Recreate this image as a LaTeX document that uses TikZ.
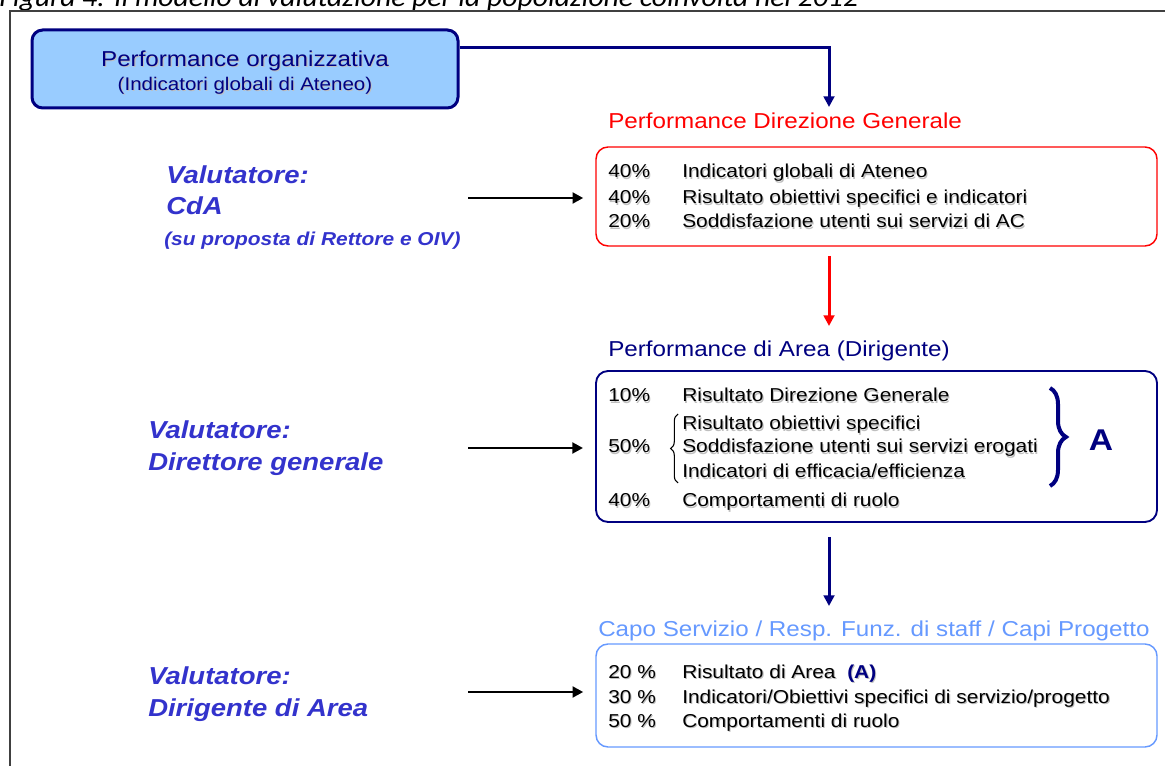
\documentclass[tikz,border=0pt]{standalone}
\usepackage{fontspec}
\setmainfont{Liberation Sans}[FakeStretch=1.12]
\newfontfamily\capfont{Carlito}[FakeStretch=1.1]
\usetikzlibrary{arrows.meta,decorations.pathreplacing}
\definecolor{navy}{HTML}{000080}
\definecolor{lblue}{HTML}{99CCFF}
\definecolor{vblue}{HTML}{3333CC}
\definecolor{sblue}{HTML}{6699FF}
\definecolor{framegray}{HTML}{404040}
\newcommand\shd[1]{\makebox[0pt][l]{\kern0.8pt\raisebox{-0.8pt}{\textcolor{black!25}{#1}}}#1}
\begin{document}
\begin{tikzpicture}[x=0.75pt,y=-0.75pt,
  pct/.style={anchor=base west, inner sep=0pt, font=\fontsize{14}{16}\selectfont},
  ttl/.style={anchor=base west, inner sep=0pt, font=\fontsize{16.2}{20}\selectfont},
  val/.style={anchor=base west, inner sep=0pt, text=vblue, font=\fontsize{18.4}{22}\selectfont\bfseries\itshape},
  panel/.style={draw, rounded corners=9pt, minimum width=420.75pt},
  blkarrow/.style={line width=2pt, -{Triangle[length=8pt,width=8pt]}},
  vconn/.style={line width=2.25pt, -{Triangle[length=8pt,width=8pt]}}
]
\useasboundingbox (0,0) rectangle (1165,766);
% caption (cut at top)
\begin{scope}
\clip (0,0) rectangle (1165,766);
\node[anchor=base west, inner sep=0pt, font=\capfont\itshape\fontsize{20.2}{23}\selectfont, text=black] (caption) at (-1,7) {Figura 4: Il modello di valutazione per la popolazione coinvolta nel 2012};
\end{scope}
% frame
\draw[framegray, line width=1.1pt] (1166,11) -- (10,11) -- (10,767);

% top box
\node[draw=navy, fill=lblue, line width=2.25pt, rounded corners=8pt, minimum width=319.5pt, minimum height=58.5pt] (org) at (245,69) {};
\node[align=center, text=navy, inner sep=0pt] (orgtxt) at (245,73)
 {{\fontsize{16.2}{21}\selectfont\shd{Performance organizzativa}}\\[3pt]{\fontsize{13.75}{17}\selectfont\shd{(Indicatori globali di Ateneo)}}};

% Direzione Generale
\node[ttl, text=red] (dgtitle) at (608,129) {Performance Direzione Generale};
\node[panel, draw=red, line width=1.1pt, minimum height=74.25pt] (dgbox) at (876.5,196.5) {};
\node[pct] (dg1p) at (608,178) {\shd{40\%}};
\node[pct] (dg1t) at (682,178) {\shd{Indicatori globali di Ateneo}};
\node[pct] (dg2p) at (608,204) {\shd{40\%}};
\node[pct] (dg2t) at (682,204) {\shd{Risultato obiettivi specifici e indicatori}};
\node[pct] (dg3p) at (608,228) {\shd{20\%}};
\node[pct] (dg3t) at (682,228) {\shd{Soddisfazione utenti sui servizi di AC}};

% Area
\node[ttl, text=navy] (artitle) at (608,357) {Performance di Area (Dirigente)};
\node[panel, draw=navy, line width=1.4pt, minimum height=113.25pt] (arbox) at (876.5,446.5) {};
\node[pct] (ar1p) at (608,402) {\shd{10\%}};
\node[pct] (ar1t) at (682,402) {\shd{Risultato Direzione Generale}};
\node[pct] (ar2t) at (682,430) {\shd{Risultato obiettivi specifici}};
\node[pct] (ar3p) at (608,453) {\shd{50\%}};
\node[pct] (ar3t) at (682,453) {\shd{Soddisfazione utenti sui servizi erogati}};
\node[pct] (ar4t) at (682,478) {\shd{Indicatori di efficacia/efficienza}};
\node[pct] (ar5p) at (608,507) {\shd{40\%}};
\node[pct] (ar5t) at (682,507) {\shd{Comportamenti di ruolo}};
\draw[line width=0.8pt, decorate, decoration={brace, amplitude=5.5pt}] (678,483) -- (678,414);
\draw[navy, line width=3pt, decorate, decoration={brace, amplitude=12pt}] (1050,388) -- (1050,486);
\node[inner sep=0pt, text=navy, font=\fontsize{22.5}{26}\selectfont\bfseries] (Alab) at (1101,440) {A};

% Capo servizio
\node[ttl, text=sblue] (cstitle) at (598,637) {Capo Servizio / Resp. Funz. di staff / Capi Progetto};
\node[panel, draw=sblue, line width=1.1pt, minimum height=77.25pt] (csbox) at (876.5,695.5) {};
\node[pct] (cs1p) at (608,678) {\shd{20 \%}};
\node[pct] (cs1t) at (682,678) {\shd{Risultato di Area\ \ }\textcolor{navy}{\bfseries\shd{(A)}}};
\node[pct] (cs2p) at (608,703) {\shd{30 \%}};
\node[pct] (cs2t) at (682,703) {\shd{Indicatori/Obiettivi specifici di servizio/progetto}};
\node[pct] (cs3p) at (608,727) {\shd{50 \%}};
\node[pct] (cs3t) at (682,727) {\shd{Comportamenti di ruolo}};

% evaluators
\node[val] (v1a) at (166,184) {Valutatore:};
\node[val] (v1b) at (166,215) {CdA};
\node[val, font=\fontsize{14}{17}\selectfont\bfseries\itshape] (v1c) at (164,246) {(su proposta di Rettore e OIV)};
\node[val] (v2a) at (148,439) {Valutatore:};
\node[val] (v2b) at (148,471) {Direttore generale};
\node[val] (v3a) at (148,684) {Valutatore:};
\node[val] (v3b) at (148,716) {Dirigente di Area};

% connectors
\coordinate (s1) at (468,198);
\coordinate (s2) at (468,448);
\coordinate (s3) at (468,692);
\draw[blkarrow, shorten >=9pt] (s1) -- (s1 -| dgbox.west);
\draw[blkarrow, shorten >=9pt] (s2) -- (s2 -| arbox.west);
\draw[blkarrow, shorten >=9pt] (s3) -- (s3 -| csbox.west);

\coordinate (c1) at (829,107);
\draw[navy, vconn] (org.east |- 0,48) -| (c1);
\coordinate (r1) at (829,256);
\coordinate (r2) at (829,326);
\draw[red, vconn] (r1) -- (r2);
\coordinate (n1) at (829,537);
\coordinate (n2) at (829,606);
\draw[navy, vconn] (n1) -- (n2);
\end{tikzpicture}
\end{document}
